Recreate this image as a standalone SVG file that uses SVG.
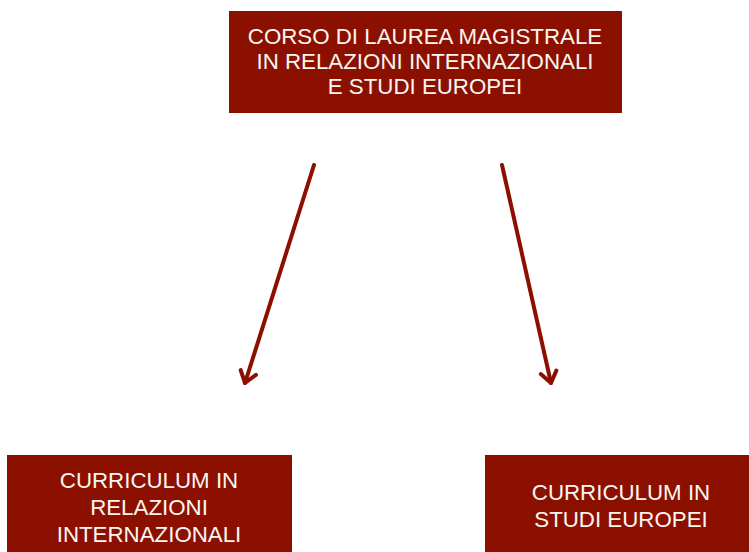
<svg xmlns="http://www.w3.org/2000/svg" width="749" height="552" viewBox="0 0 749 552">
<defs>
<style>
.box{fill:#8C1000}
.t{font-family:"Liberation Sans",Arial,sans-serif;font-size:22.3px;fill:#FAF5F2;text-anchor:middle}
.c{fill:none;stroke:#8C1000;stroke-width:4;stroke-linecap:round}
</style>
<marker id="ah" markerUnits="userSpaceOnUse" markerWidth="30" markerHeight="30" viewBox="-15 -15 30 30" refX="0" refY="0" orient="auto">
<path d="M-11,-8 L0,0 L-11,8" fill="none" stroke="#8C1000" stroke-width="4" stroke-linecap="round" stroke-linejoin="round"/>
</marker>
</defs>
<rect width="749" height="552" fill="#fff"/>
<g id="top">
<rect class="box" x="229" y="11" width="393" height="102"/>
<text class="t" x="425" y="44">CORSO DI LAUREA MAGISTRALE</text>
<text class="t" x="425" y="69">IN RELAZIONI INTERNAZIONALI</text>
<text class="t" x="425" y="94">E STUDI EUROPEI</text>
</g>
<g id="left">
<rect class="box" x="7" y="455" width="285" height="100"/>
<text class="t" x="149" y="488">CURRICULUM IN</text>
<text class="t" x="149" y="515">RELAZIONI</text>
<text class="t" x="149" y="542">INTERNAZIONALI</text>
</g>
<g id="right">
<rect class="box" x="485" y="455" width="270" height="100"/>
<text class="t" x="621" y="500">CURRICULUM IN</text>
<text class="t" x="621" y="527">STUDI EUROPEI</text>
</g>
<g id="connectors">
<path class="c" d="M314,165 L245,383" marker-end="url(#ah)"/>
<path class="c" d="M502,165 L551,383" marker-end="url(#ah)"/>
</g>
</svg>
